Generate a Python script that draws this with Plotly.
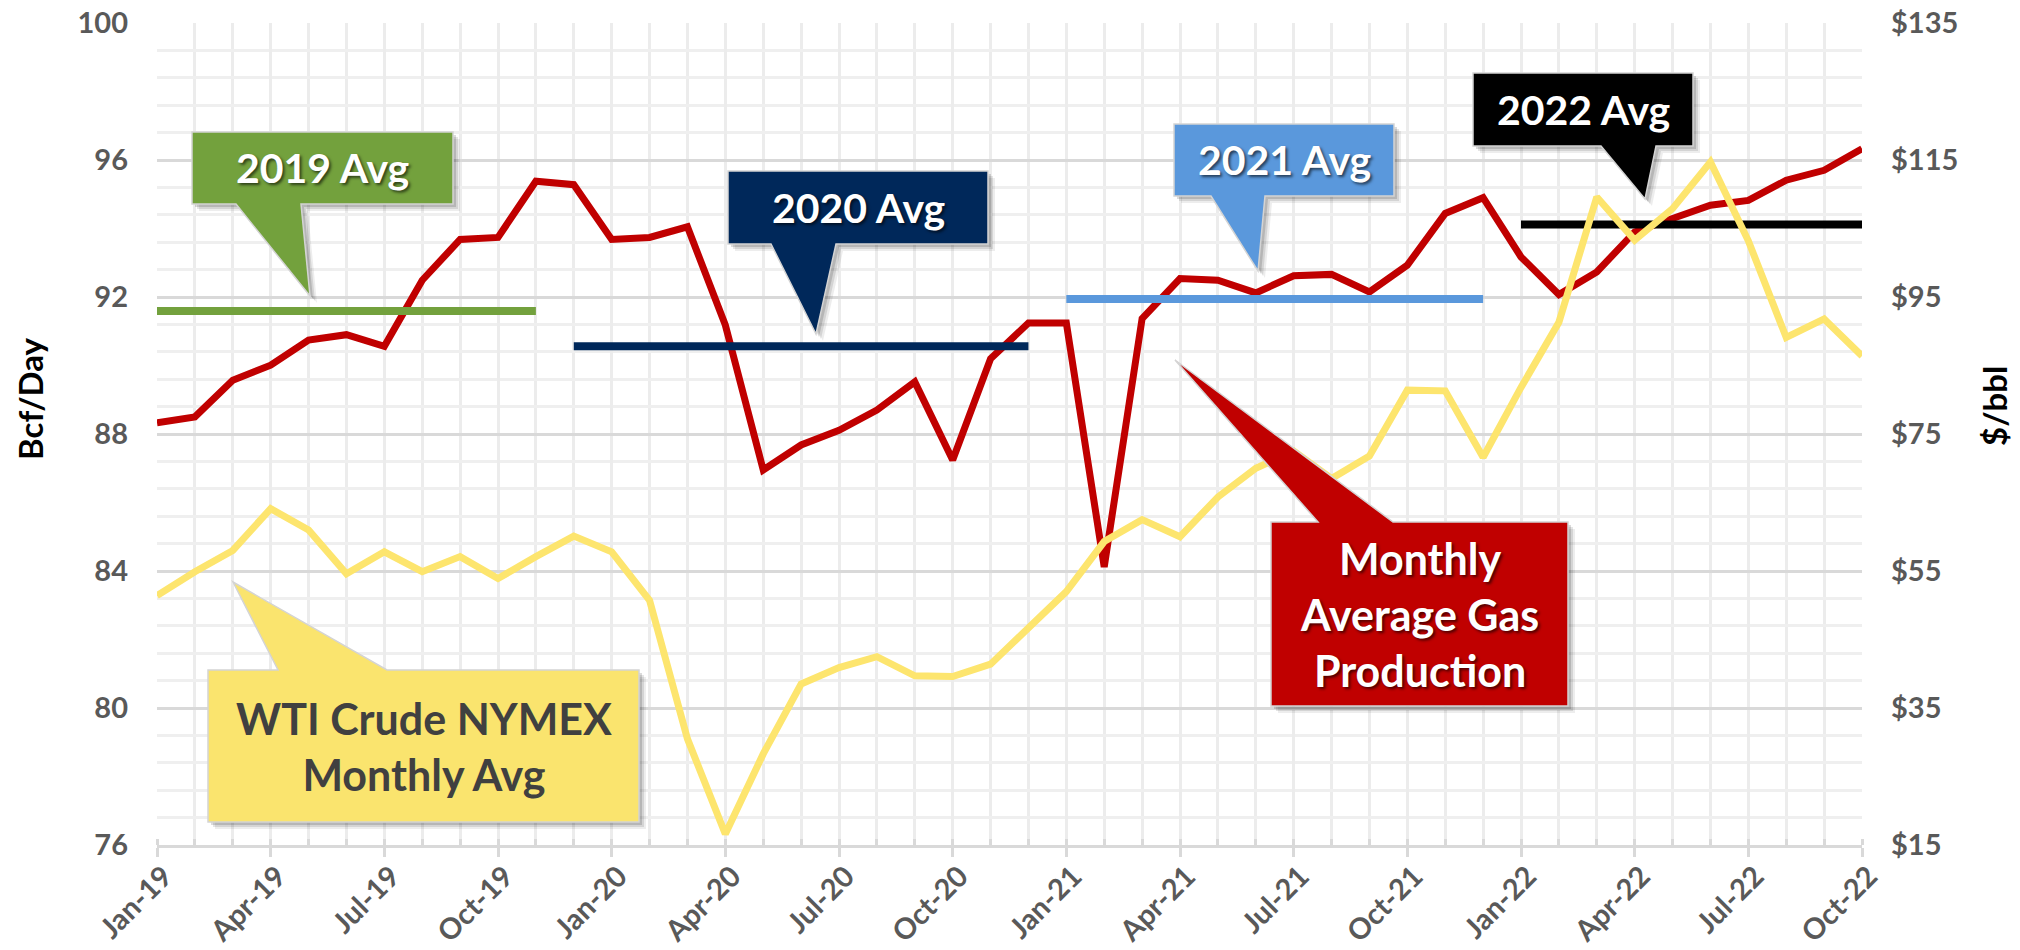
import plotly.graph_objects as go

# ---------------- data ----------------
months = ["Jan-19", "Feb-19", "Mar-19", "Apr-19", "May-19", "Jun-19", "Jul-19", "Aug-19", "Sep-19", "Oct-19", "Nov-19", "Dec-19",
          "Jan-20", "Feb-20", "Mar-20", "Apr-20", "May-20", "Jun-20", "Jul-20", "Aug-20", "Sep-20", "Oct-20", "Nov-20", "Dec-20",
          "Jan-21", "Feb-21", "Mar-21", "Apr-21", "May-21", "Jun-21", "Jul-21", "Aug-21", "Sep-21", "Oct-21", "Nov-21", "Dec-21",
          "Jan-22", "Feb-22", "Mar-22", "Apr-22", "May-22", "Jun-22", "Jul-22", "Aug-22", "Sep-22", "Oct-22"]

gas_production = [88.33, 88.50, 89.57, 90.01, 90.74, 90.90, 90.56, 92.49, 93.68, 93.74, 95.38, 95.28,
                  93.68, 93.74, 94.05, 91.18, 86.95, 87.68, 88.11, 88.70, 89.52, 87.24, 90.20, 91.24,
                  91.24, 84.12, 91.37, 92.54, 92.49, 92.12, 92.62, 92.66, 92.15, 92.93, 94.44, 94.90,
                  93.17, 92.07, 92.73, 93.90, 94.29, 94.68, 94.82, 95.41, 95.70, 96.33]

wti_price = [51.4, 54.9, 58.0, 64.1, 61.0, 54.6, 57.8, 54.9, 57.1, 53.9, 57.1, 60.1,
             57.8, 50.7, 30.5, 16.6, 28.3, 38.5, 40.9, 42.5, 39.7, 39.6, 41.4, 46.8,
             52.0, 59.3, 62.5, 60.0, 65.8, 70.0, 72.5, 68.5, 71.8, 81.4, 81.3, 71.6,
             81.8, 91.3, 109.6, 103.3, 107.9, 114.7, 103.2, 89.1, 91.8, 86.4]

avg_labels = ["2019 Avg", "2020 Avg", "2021 Avg", "2022 Avg"]
avg_values = [91.59, 90.56, 91.94, 94.12]
avg_start = ["Jan-19", "Dec-19", "Jan-21", "Jan-22"]
avg_end = ["Nov-19", "Dec-20", "Dec-21", "Oct-22"]

left_ticks = [76, 80, 84, 88, 92, 96, 100]
right_ticks = [15, 35, 55, 75, 95, 115, 135]
right_tick_text = ["$15", "$35", "$55", "$75", "$95", "$115", "$135"]

# ---------------- styles ----------------
RED = "#C00000"
YELLOW = "#FDE56E"
avg_colors = ["#73A13D", "#00285A", "#5A98DC", "#000000"]
FONT = "Lato"
TICK_GRAY = "#595959"

x = list(range(len(months)))
idx = {m: i for i, m in enumerate(months)}

fig = go.Figure()

fig.add_trace(go.Scatter(x=x, y=gas_production, mode="lines", name="Monthly Average Gas Production",
                         line=dict(color=RED, width=7), yaxis="y"))
for lab, val, s, e, c in zip(avg_labels, avg_values, avg_start, avg_end, avg_colors):
    fig.add_trace(go.Scatter(x=[idx[s], idx[e]], y=[val, val], mode="lines", name=lab,
                             line=dict(color=c, width=8), yaxis="y"))
fig.add_trace(go.Scatter(x=x, y=wti_price, mode="lines", name="WTI Crude NYMEX Monthly Avg",
                         line=dict(color=YELLOW, width=7), yaxis="y2"))

# ---------------- layout geometry (page pixels) ----------------
W, H = 2020, 950
PL, PR, PT, PB = 157, 1862, 23, 845


def pxx(v):
    return (v - PL) / (PR - PL)


def pxy(v):
    return (PB - v) / (PB - PT)


def path(points):
    return "M " + " L ".join(f"{pxx(a):.5f},{pxy(b):.5f}" for a, b in points) + " Z"


# callouts: box (x0, x1, y0, y1), pointer base (b1, b2), tip, side of pointer
callouts = [
    dict(box=(192, 453, 132, 204), base=(236, 301), tip=(310, 296), side="bottom", fill=avg_colors[0],
         text="2019 Avg", color="white", size=41),
    dict(box=(728, 988, 171, 244), base=(771, 836), tip=(816, 334), side="bottom", fill=avg_colors[1],
         text="2020 Avg", color="white", size=41),
    dict(box=(1174, 1394, 124, 196), base=(1211, 1265), tip=(1258, 271), side="bottom", fill=avg_colors[2],
         text="2021 Avg", color="white", size=41),
    dict(box=(1473, 1693, 73, 146), base=(1601, 1656), tip=(1645, 199), side="bottom", fill=avg_colors[3],
         text="2022 Avg", color="white", size=41),
    dict(box=(208, 639, 670, 822), base=(278, 387), tip=(233, 582), side="top", fill="#FAE46E",
         text="WTI Crude NYMEX<br>Monthly Avg", color="#404040", size=43),
    dict(box=(1271, 1568, 522, 706), base=(1318, 1393), tip=(1175, 360), side="top", fill=RED,
         text="Monthly<br>Average Gas<br>Production", color="white", size=43),
]

shapes = []
annotations = []
for c in callouts:
    x0, x1, y0, y1 = c["box"]
    b1, b2 = c["base"]
    tx, ty = c["tip"]
    if c["side"] == "bottom":
        pts = [(x0, y0), (x1, y0), (x1, y1), (b2, y1), (tx, ty), (b1, y1), (x0, y1)]
    else:
        pts = [(x0, y0), (b1, y0), (tx, ty), (b2, y0), (x1, y0), (x1, y1), (x0, y1)]
    for off, op in [(7, 0.07), (5, 0.10), (3, 0.14)]:
        spts = [(a + off, b + off) for a, b in pts]
        shapes.append(dict(type="path", xref="paper", yref="paper", path=path(spts),
                           fillcolor=f"rgba(0,0,0,{op})", line=dict(width=0), layer="above"))
    shapes.append(dict(type="path", xref="paper", yref="paper", path=path(pts),
                       fillcolor=c["fill"], line=dict(color="#D4D4D4", width=1.5), layer="above"))
    shadow = "2px 2px 3px rgba(0,0,0,0.6)" if c["color"] == "white" else "none"
    annotations.append(dict(xref="paper", yref="paper", x=pxx((x0 + x1) / 2), y=pxy((y0 + y1) / 2),
                            text=c["text"], showarrow=False, xanchor="center", yanchor="middle",
                            font=dict(family=FONT, size=c["size"], color=c["color"], weight=700, shadow=shadow)))

# axis titles
annotations.append(dict(xref="paper", yref="paper", x=pxx(30), y=pxy(398), text="Bcf/Day", textangle=-90,
                        showarrow=False, xanchor="center", yanchor="middle",
                        font=dict(family=FONT, size=33, color="black", weight=700)))
annotations.append(dict(xref="paper", yref="paper", x=pxx(1994), y=pxy(406), text="$/bbl", textangle=-90,
                        showarrow=False, xanchor="center", yanchor="middle",
                        font=dict(family=FONT, size=33, color="black", weight=700)))

tickfont = dict(family=FONT, size=29, color=TICK_GRAY, weight=700)
xtickfont = dict(family=FONT, size=29, color=TICK_GRAY, weight=700)

fig.update_layout(
    width=W, height=H,
    margin=dict(l=PL, r=W - PR, t=PT, b=H - PB),
    paper_bgcolor="white", plot_bgcolor="white",
    showlegend=False,
    shapes=shapes, annotations=annotations,
    xaxis=dict(range=[0, len(months) - 1], tickmode="array", tickvals=x[::3], ticktext=months[::3],
               tickangle=-45, tickfont=xtickfont, ticks="outside", ticklen=9, tickwidth=2.5, tickcolor="#D9D9D9",
               showgrid=True, gridcolor="#ECECEC", gridwidth=2.5, zeroline=False,
               showline=True, linecolor="#D9D9D9", linewidth=2.5, automargin=False,
               ticklabelstandoff=-9, ticklabelshift=7,
               minor=dict(tickmode="array", tickvals=x, ticks="inside", ticklen=6, tickwidth=2.5,
                          tickcolor="#D9D9D9", showgrid=True, gridcolor="#ECECEC", gridwidth=2.5)),
    yaxis=dict(range=[76, 100], tickmode="array", tickvals=left_ticks, tickfont=tickfont,
               showgrid=True, gridcolor="#D9D9D9", gridwidth=2.5, zeroline=False, ticks="",
               ticklabelstandoff=28, automargin=False,
               minor=dict(dtick=0.8, tick0=76, showgrid=True, gridcolor="#EFEFEF", gridwidth=2.5)),
    yaxis2=dict(range=[15, 135], overlaying="y", side="right", tickmode="array", tickvals=right_ticks,
                ticktext=right_tick_text, tickfont=tickfont, showgrid=False, zeroline=False, ticks="",
                ticklabelstandoff=28, automargin=False),
)

fig.write_html("out.html", config={"displayModeBar": False},
               post_script="document.body.style.margin='0';document.body.style.overflow='hidden';")
